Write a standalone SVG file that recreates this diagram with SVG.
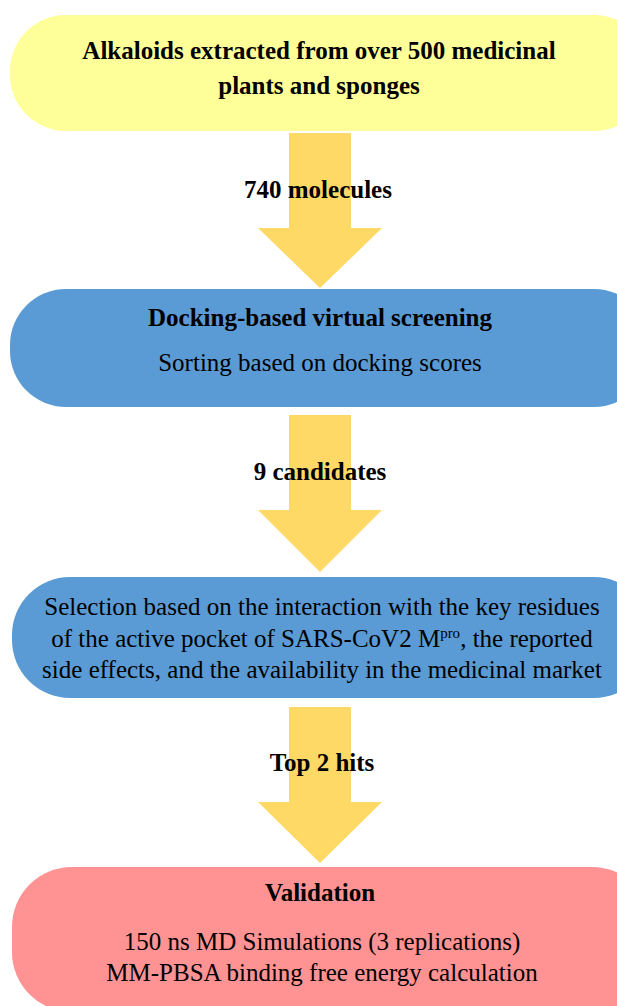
<svg xmlns="http://www.w3.org/2000/svg" width="617" height="1006" viewBox="0 0 617 1006">
  <style>
    .t { font-family: 'Liberation Serif', 'Tinos', 'DejaVu Serif', serif; font-size: 25px; fill: #000; text-anchor: middle; }
    .b { font-weight: bold; }
    .arrow { fill: #FFD966; }
  </style>
  <rect width="617" height="1006" fill="#ffffff"/>

  <!-- connectors: block arrows between stages -->
  <g id="connectors">
    <polygon class="arrow" points="289,133 351,133 351,228 382,228 320,288 258,228 289,228"/>
    <polygon class="arrow" points="289,415 351,415 351,510 382,510 320,572 258,510 289,510"/>
    <polygon class="arrow" points="289,707 351,707 351,802 382,802 320,863 258,802 289,802"/>
  </g>

  <g id="label-740">
    <text class="t b" x="318" y="198">740 molecules</text>
  </g>
  <g id="label-9">
    <text class="t b" x="320" y="480">9 candidates</text>
  </g>
  <g id="label-top2">
    <text class="t b" x="322" y="771">Top 2 hits</text>
  </g>

  <g id="node-source">
    <rect x="10" y="15" width="640" height="116" rx="56" fill="#FFFF99"/>
    <text class="t b" x="319" y="59">Alkaloids extracted from over 500 medicinal</text>
    <text class="t b" x="319" y="94">plants and sponges</text>
  </g>

  <g id="node-docking">
    <rect x="10" y="289" width="640" height="118" rx="56" fill="#5B9BD5"/>
    <text class="t b" x="320" y="326">Docking-based virtual screening</text>
    <text class="t" x="320" y="371">Sorting based on docking scores</text>
  </g>

  <g id="node-selection">
    <rect x="12" y="577" width="640" height="121" rx="58" fill="#5B9BD5"/>
    <text class="t" x="322" y="615">Selection based on the interaction with the key residues</text>
    <text class="t" x="322" y="647">of the active pocket of SARS-CoV2 M<tspan font-size="15" dy="-9">pro</tspan><tspan dy="9">, the reported</tspan></text>
    <text class="t" x="322" y="678">side effects, and the availability in the medicinal market</text>
  </g>

  <g id="node-validation">
    <rect x="12" y="867" width="640" height="145" rx="60" fill="#FF9393"/>
    <text class="t b" x="320" y="901">Validation</text>
    <text class="t" x="322" y="950">150 ns MD Simulations (3 replications)</text>
    <text class="t" x="322" y="981">MM-PBSA binding free energy calculation</text>
  </g>
</svg>
